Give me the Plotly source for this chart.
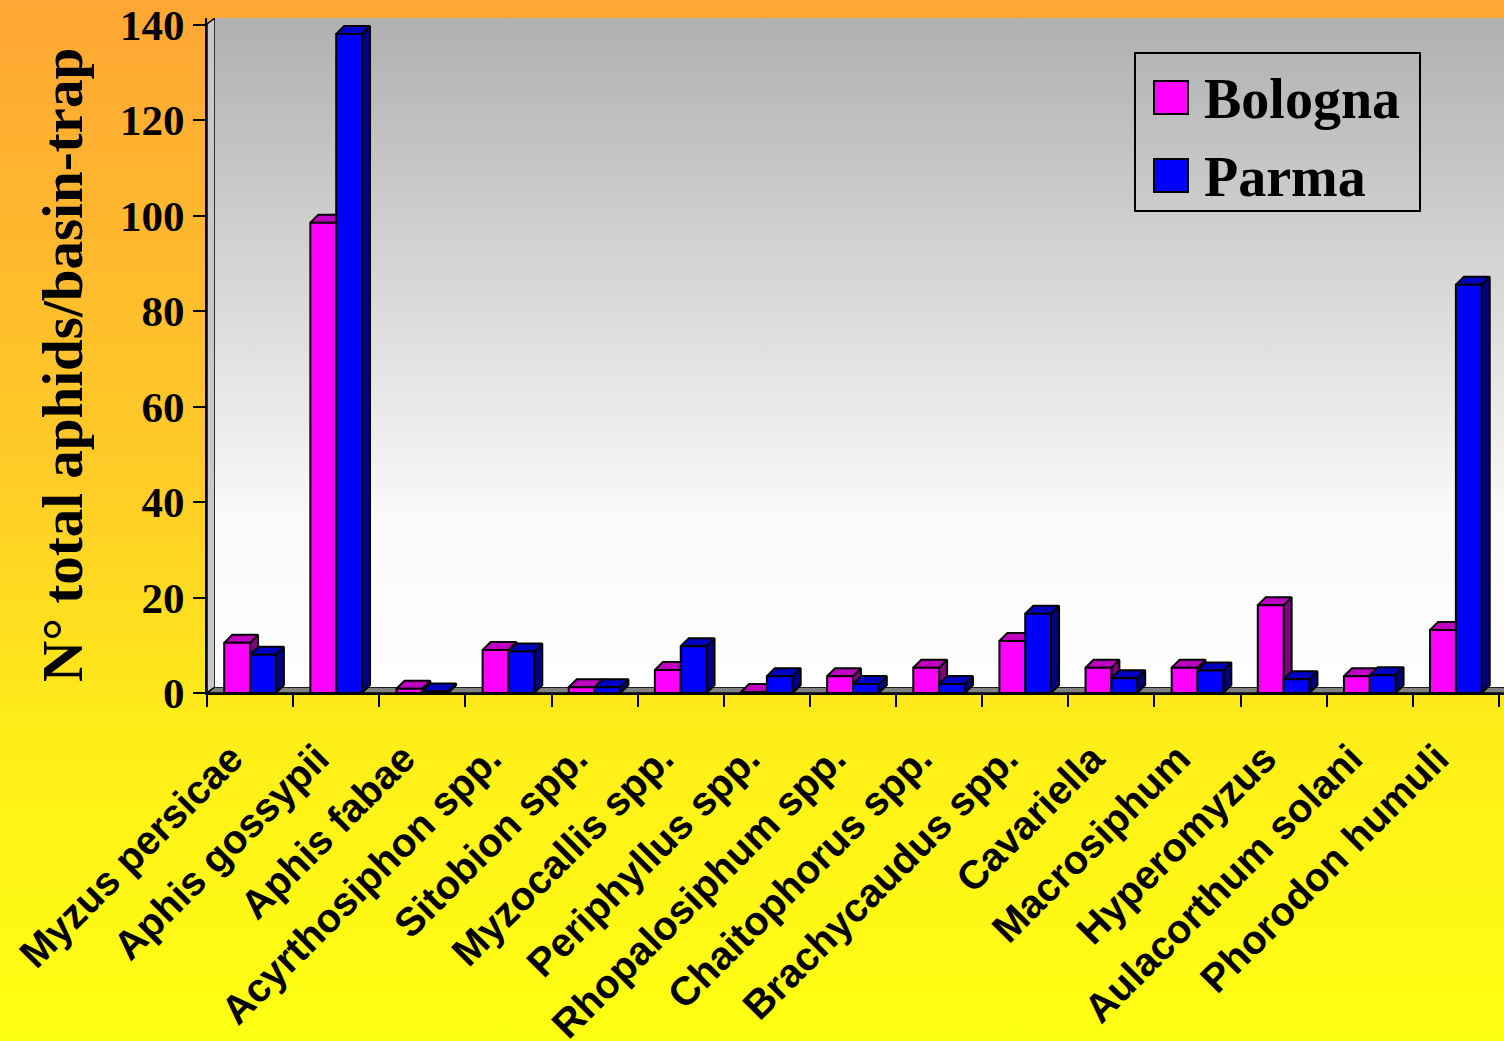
import base64
import plotly.graph_objects as go

# ---------------- data ----------------
categories = [
    "Myzus persicae", "Aphis gossypii", "Aphis fabae", "Acyrthosiphon spp.",
    "Sitobion spp.", "Myzocallis spp.", "Periphyllus spp.", "Rhopalosiphum spp.",
    "Chaitophorus spp.", "Brachycaudus spp.", "Cavariella", "Macrosiphum",
    "Hyperomyzus", "Aulacorthum solani", "Phorodon humuli",
]
bologna = [10.5, 98.5, 0.9, 9.0, 1.2, 4.8, 0.2, 3.5, 5.3, 10.9, 5.3, 5.3, 18.4, 3.5, 13.2]
parma = [8.0, 138.0, 0.3, 8.7, 1.2, 9.8, 3.5, 1.9, 1.9, 16.6, 3.1, 4.7, 2.9, 3.7, 85.5]
series_names = ["Bologna", "Parma"]
y_ticks = [0, 20, 40, 60, 80, 100, 120, 140]
y_title = "N° total aphids/basin-trap"

# ---------------- geometry / style ----------------
W, H = 1504, 1041
ML, MR, MT, MB = 207, 0, 18, 348
PW, PH = W - ML - MR, H - MT - MB
PX_PER_X = 86.13
PX_PER_Y = 4.775
XR = [-0.5, -0.5 + PW / PX_PER_X]
YR = [0, PH / PX_PER_Y]
BAR_W = 0.30
DXB, DYB = 8 / PX_PER_X, 8 / PX_PER_Y      # bar depth
DXW, DYW = 8 / PX_PER_X, 6 / PX_PER_Y      # wall/floor depth
LABEL_SHIFT = -0.22                          # tick-label anchor offset (category units)

colors = {
    "Bologna": ("#FF00FF", "#C000C0", "#800080"),
    "Parma": ("#0000FF", "#0000C0", "#000080"),
}

SERIF = "Liberation Serif, Times New Roman, serif"
SANS = "Liberation Sans, Arial, sans-serif"


def grad_uri(stops):
    s = "".join(f'<stop offset="{o}" stop-color="{c}"/>' for o, c in stops)
    svg = ('<svg xmlns="http://www.w3.org/2000/svg" width="100" height="100" '
           'viewBox="0 0 100 100" preserveAspectRatio="none"><defs>'
           f'<linearGradient id="g" x1="0" y1="0" x2="0" y2="1">{s}</linearGradient>'
           '</defs><rect width="100" height="100" fill="url(#g)"/></svg>')
    return "data:image/svg+xml;base64," + base64.b64encode(svg.encode()).decode()


def px2x(px):
    return (px - ML) / PW


def px2y(py):
    return (H - MB - py) / PH


fig = go.Figure()

# ---------------- 3D bars ----------------
for si, (name, vals) in enumerate([("Bologna", bologna), ("Parma", parma)]):
    front_c, top_c, side_c = colors[name]
    fx, fy, tx, ty, sx, sy = [], [], [], [], [], []
    for i, v in enumerate(vals):
        x0 = i - BAR_W if si == 0 else i
        x1 = x0 + BAR_W
        fx += [x0, x1, x1, x0, x0, None]
        fy += [0, 0, v, v, 0, None]
        tx += [x0, x1, x1 + DXB, x0 + DXB, x0, None]
        ty += [v, v, v + DYB, v + DYB, v, None]
        sx += [x1, x1 + DXB, x1 + DXB, x1, x1, None]
        sy += [0, DYB, v + DYB, v, 0, None]
    for xs, ys, c in [(sx, sy, side_c), (tx, ty, top_c), (fx, fy, front_c)]:
        fig.add_trace(go.Scatter(
            x=xs, y=ys, mode="lines", fill="toself", fillcolor=c,
            line=dict(color="black", width=2), hoverinfo="skip",
            showlegend=False, name=name,
        ))

# ---------------- backgrounds ----------------
images = [
    dict(source=grad_uri([(0, "#FFA634"), (0.45, "#FFCB27"), (0.72, "#FFEF18"), (1, "#FFFF12")]),
         xref="paper", yref="paper", x=px2x(0), y=px2y(0),
         sizex=W / PW, sizey=H / PH, xanchor="left", yanchor="top",
         sizing="stretch", layer="below"),
    dict(source=grad_uri([(0, "#B0B0B0"), (0.75, "#FAFAFA"), (1, "#FFFFFF")]),
         xref="x", yref="y", x=XR[0] + DXW, y=YR[1],
         sizex=XR[1] - XR[0], sizey=YR[1] - DYW, xanchor="left", yanchor="top",
         sizing="stretch", layer="below"),
]

shapes = []
# back wall outline
shapes.append(dict(type="path", xref="x", yref="y", layer="below",
                   path=f"M{XR[0]+DXW},{DYW} L{XR[0]+DXW},{YR[1]} L{XR[1]+1},{YR[1]}",
                   line=dict(color="black", width=2)))
# left side wall
shapes.append(dict(type="path", xref="x", yref="y", layer="below",
                   path=(f"M{XR[0]},0 L{XR[0]},{YR[1]-DYW} L{XR[0]+DXW},{YR[1]} "
                         f"L{XR[0]+DXW},{DYW} Z"),
                   fillcolor="#C8C8C8", line=dict(color="black", width=1.5)))
# floor
shapes.append(dict(type="path", xref="x", yref="y", layer="below",
                   path=(f"M{XR[0]},0 L{XR[1]+1},0 L{XR[1]+1},{DYW} "
                         f"L{XR[0]+DXW},{DYW} Z"),
                   fillcolor="#808080", line=dict(color="black", width=1.5)))

# ---------------- legend (manual, large) ----------------
shapes.append(dict(type="rect", xref="paper", yref="paper",
                   x0=px2x(1135), x1=px2x(1420), y0=px2y(211), y1=px2y(53),
                   line=dict(color="black", width=2), fillcolor="rgba(0,0,0,0)"))
annotations = []
for name, sq_top, text_y in [("Bologna", 81, 99), ("Parma", 159, 177)]:
    shapes.append(dict(type="rect", xref="paper", yref="paper",
                       x0=px2x(1154), x1=px2x(1188), y0=px2y(sq_top + 33), y1=px2y(sq_top),
                       line=dict(color="black", width=2), fillcolor=colors[name][0]))
    annotations.append(dict(xref="paper", yref="paper", x=px2x(1202), y=px2y(text_y),
                            xanchor="left", yanchor="middle", showarrow=False,
                            text=name, font=dict(family=SERIF, size=56, color="black",
                                                 weight="bold")))

# y-axis title
annotations.append(dict(xref="paper", yref="paper", x=px2x(62), y=px2y(365),
                        xanchor="center", yanchor="middle", showarrow=False,
                        textangle=-90, text=y_title,
                        font=dict(family=SERIF, size=57, color="black", weight="bold")))

fig.update_layout(
    template="none",
    width=W, height=H,
    margin=dict(l=ML, r=MR, t=MT, b=MB, pad=0),
    paper_bgcolor="#FFD020",
    plot_bgcolor="rgba(0,0,0,0)",
    showlegend=False,
    images=images,
    shapes=shapes,
    annotations=annotations,
    xaxis=dict(
        range=XR, showgrid=False, zeroline=False, automargin=False,
        tickmode="array",
        tickvals=[i + LABEL_SHIFT for i in range(len(categories))], ticktext=categories,
        tickangle=-45, ticks="outside", ticklen=12, tickcolor="rgba(0,0,0,0)",
        ticklabelstandoff=12,
        tickfont=dict(family=SANS, size=40, color="black", weight="bold"),
        showline=True, linecolor="black", linewidth=2,
        minor=dict(tick0=-0.5, dtick=1, ticks="outside", ticklen=12, tickwidth=2,
                   tickcolor="black", showgrid=False),
    ),
    yaxis=dict(
        range=YR, showgrid=False, zeroline=False, automargin=False,
        tickmode="array", tickvals=y_ticks,
        ticks="outside", ticklen=12, tickwidth=2, tickcolor="black",
        showline=True, linecolor="black", linewidth=2,
        tickfont=dict(family=SERIF, size=43, color="black", weight="bold"),
    ),
)

fig.write_html("out.html")
